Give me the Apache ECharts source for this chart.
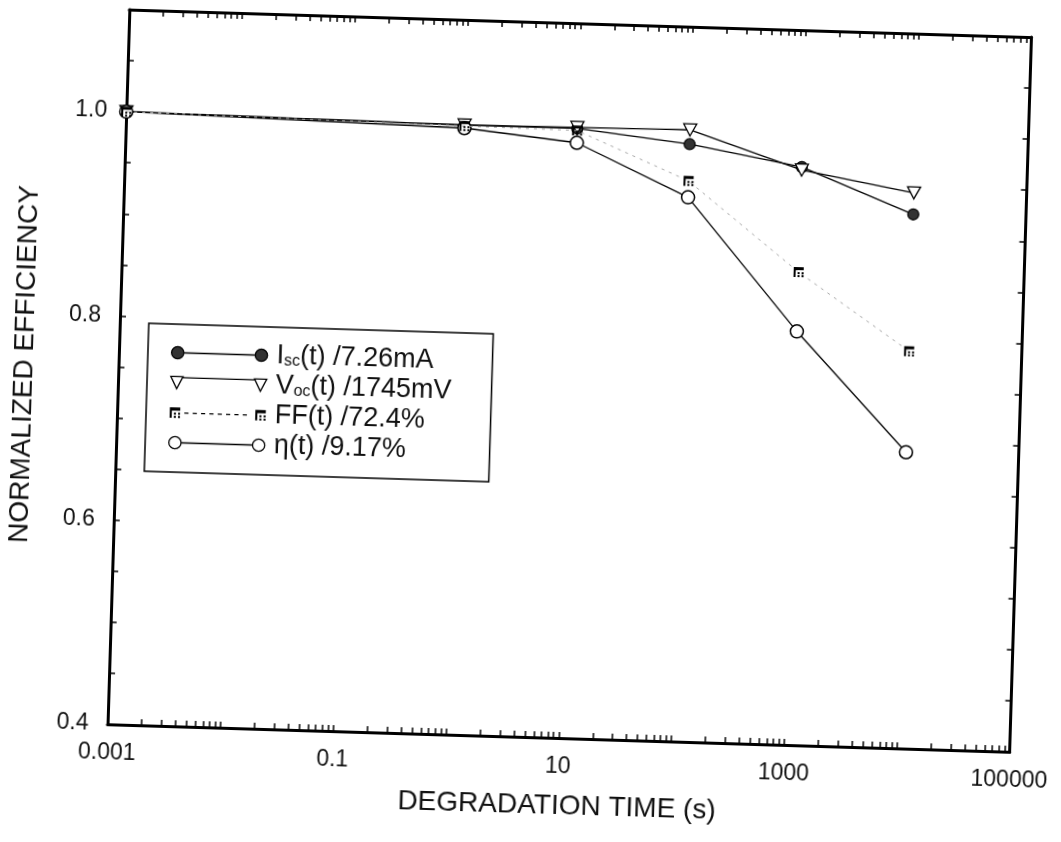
<!DOCTYPE html>
<html>
<head>
<meta charset="utf-8">
<script src="https://cdn.jsdelivr.net/npm/echarts@6/dist/echarts.min.js"></script>
<style>
  html, body { margin: 0; padding: 0; background: #fff; overflow: hidden; }
  /* the reference is a slightly tilted scan */
  #chart { width: 1061px; height: 842px; transform: rotate(1.75deg); transform-origin: 50% 50%; }
</style>
</head>
<body>
<div id="chart"></div>
<script>
// degradation time (s) and normalized values
var times = [0.001, 1, 10, 100, 1000, 10000];
var isc = [1.0, 0.997, 0.997, 0.985, 0.966, 0.923];
var voc = [1.0, 0.997, 0.998, 0.999, 0.963, 0.944];
var ff  = [1.0, 0.996, 0.995, 0.949, 0.863, 0.789];
var eta = [1.0, 0.994, 0.983, 0.933, 0.805, 0.690];

var seriesNames = ['Isc(t) /7.26mA', 'Voc(t) /1745mV', 'FF(t) /72.4%', 'η(t) /9.17%'];
var legendText = ['{g| }I{s|sc}(t) /7.26mA', '{g| }V{s|oc}(t) /1745mV', '{g| }FF(t) /72.4%', '{g| }η(t) /9.17%'];

var xLabelValues = [0.001, 0.1, 10, 1000, 100000];
var xLabelText = ['0.001', '0.1', '10', '1000', '100000'];
var yLabelValues = [0.4, 0.6, 0.8, 1.0];
var yLabelText = ['0.4', '0.6', '0.8', '1.0'];

var FONT = "'Liberation Sans', Arial, sans-serif";

// tick marks: decades 2..9 on the log axis, 0.05 steps on the value axis
var xTickMarks = [];
for (var e = -3; e < 5; e++) {
  for (var m = 1; m < 10; m++) xTickMarks.push(m * Math.pow(10, e));
}
xTickMarks.push(100000);
var yTickMarks = [];
for (var k = 0; k <= 14; k++) yTickMarks.push(+(0.4 + k * 0.05).toFixed(2));

function pairs(vals) {
  return times.map(function (t, i) { return [t, vals[i]]; });
}

var ffGlyph = 'M0,0H10V3H0Z M0,3H2V10H0Z M4,5H6V7H4Z M8,5H10V7H8Z M4,8H6V10H4Z M8,8H10V10H8Z';

function circ(cx) {
  return 'M' + (cx - 6) + ',7a6,6 0 1,0 12,0a6,6 0 1,0 -12,0Z';
}
function ffAt(x) {
  return 'M' + x + ',2h10v3h-10Z M' + x + ',5h2v7h-2Z M' + (x + 4) + ',7h2v2h-2Z M' + (x + 8) + ',7h2v2h-2Z M' +
    (x + 4) + ',10h2v2h-2Z M' + (x + 8) + ',10h2v2h-2Z';
}
var dashes = '';
for (var d = 16; d < 80; d += 8) dashes += ' M' + d + ',6.5h4v1.2h-4Z';

var iconIsc = 'path://' + circ(7) + ' ' + circ(89) + ' M13,7H83';
var iconVoc = 'path://M1,1H13L7,13Z M83,1H95L89,13Z M12,2H84';
var iconFF = 'path://' + ffAt(2) + ' ' + ffAt(84) + dashes;
var iconEta = 'path://' + circ(7) + ' ' + circ(89) + ' M13,7H83';

function xAxisFor(pos) {
  return {
    type: 'log', logBase: 10, min: 0.001, max: 100000, position: pos,
    axisLine: { show: true, onZero: false, lineStyle: { color: '#000', width: 3 } },
    axisTick: { show: true, inside: true, length: 6, customValues: xTickMarks, lineStyle: { color: '#000', width: 1.5 } },
    minorTick: { show: false },
    splitLine: { show: false },
    axisLabel: pos === 'bottom' ? {
      customValues: xLabelValues, margin: 17, color: '#111', fontFamily: FONT, fontSize: 23,
      formatter: function (v) {
        for (var i = 0; i < xLabelValues.length; i++) {
          if (Math.abs(Math.log10(v) - Math.log10(xLabelValues[i])) < 1e-6) return xLabelText[i];
        }
        return '';
      }
    } : { show: false }
  };
}
function yAxisFor(pos) {
  return {
    type: 'value', min: 0.4, max: 1.1, interval: 0.2, position: pos,
    axisLine: { show: true, onZero: false, lineStyle: { color: '#000', width: 3 } },
    axisTick: { show: true, inside: true, length: 6, customValues: yTickMarks, lineStyle: { color: '#000', width: 1.5 } },
    splitLine: { show: false },
    axisLabel: pos === 'left' ? {
      customValues: yLabelValues, margin: 19, color: '#111', fontFamily: FONT, fontSize: 23,
      formatter: function (v) {
        for (var i = 0; i < yLabelValues.length; i++) {
          if (Math.abs(v - yLabelValues[i]) < 1e-6) return yLabelText[i];
        }
        return '';
      }
    } : { show: false }
  };
}

var xBottom = xAxisFor('bottom');
xBottom.name = 'DEGRADATION TIME (s)';
xBottom.nameLocation = 'middle';
xBottom.nameGap = 54;
xBottom.nameTextStyle = { color: '#111', fontFamily: FONT, fontSize: 28 };

var yLeft = yAxisFor('left');
yLeft.name = 'NORMALIZED EFFICIENCY';
yLeft.nameLocation = 'middle';
yLeft.nameGap = 80;
yLeft.nameTextStyle = { color: '#111', fontFamily: FONT, fontSize: 28 };

var option = {
  animation: false,
  backgroundColor: '#fff',
  grid: { left: 117, right: 39, top: 22, bottom: 105 },
  xAxis: [xBottom, xAxisFor('top')],
  yAxis: [yLeft, yAxisFor('right')],
  legend: {
    orient: 'vertical', left: 146, top: 335, selectedMode: false,
    backgroundColor: '#fff', borderColor: '#000', borderWidth: 1.5,
    padding: [15, 40, 16, 23],
    itemWidth: 96, itemHeight: 14, itemGap: 3,
    textStyle: {
      color: '#111', fontFamily: FONT, fontSize: 27, lineHeight: 26,
      rich: {
        g: { width: 4 },
        s: { fontSize: 16, lineHeight: 14, verticalAlign: 'bottom' }
      }
    },
    formatter: function (n) { return legendText[seriesNames.indexOf(n)]; },
    data: [
      { name: seriesNames[0], icon: iconIsc, itemStyle: { color: '#333', borderColor: '#000', borderWidth: 1.3 } },
      { name: seriesNames[1], icon: iconVoc, itemStyle: { color: '#fff', borderColor: '#000', borderWidth: 1.3 } },
      { name: seriesNames[2], icon: iconFF, itemStyle: { color: '#000', borderWidth: 0 } },
      { name: seriesNames[3], icon: iconEta, itemStyle: { color: '#fff', borderColor: '#000', borderWidth: 1.3 } }
    ]
  },
  series: [
    {
      name: seriesNames[0], type: 'line', data: pairs(isc), clip: false,
      symbol: 'circle', symbolSize: 11,
      itemStyle: { color: '#333', borderColor: '#000', borderWidth: 1.2 },
      lineStyle: { color: '#000', width: 1.3 }, z: 3
    },
    {
      name: seriesNames[1], type: 'line', data: pairs(voc), clip: false,
      symbol: 'triangle', symbolRotate: 180, symbolSize: [13, 12],
      itemStyle: { color: '#fff', borderColor: '#000', borderWidth: 1.3 },
      lineStyle: { color: '#000', width: 1.3 }, z: 4
    },
    {
      name: seriesNames[3], type: 'line', data: pairs(eta), clip: false,
      symbol: 'circle', symbolSize: 13,
      itemStyle: { color: '#fff', borderColor: '#000', borderWidth: 1.5 },
      lineStyle: { color: '#000', width: 1.3 }, z: 5
    },
    {
      name: seriesNames[2], type: 'line', data: pairs(ff), clip: false,
      symbol: 'path://' + ffGlyph, symbolSize: 10,
      itemStyle: { color: '#000' },
      lineStyle: { color: '#aaa', width: 1, type: [3, 5] }, z: 6
    }
  ]
};

var chart = echarts.init(document.getElementById('chart'));
chart.setOption(option);
</script>
</body>
</html>
